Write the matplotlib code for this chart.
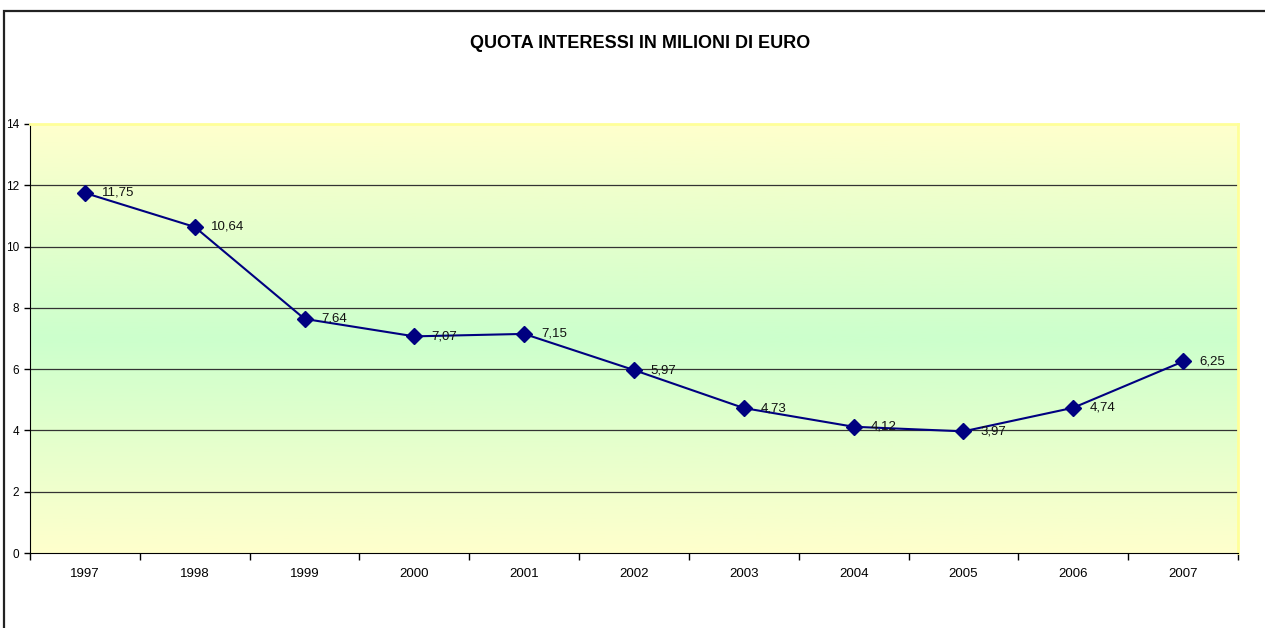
import matplotlib.pyplot as plt
import numpy as np
from matplotlib.colors import LinearSegmentedColormap
from matplotlib.patches import Rectangle

plt.rcParams['font.family'] = ['Liberation Sans', 'DejaVu Sans']

years = ['1997', '1998', '1999', '2000', '2001', '2002', '2003', '2004', '2005', '2006', '2007']
interessi = [11.75, 10.64, 7.64, 7.07, 7.15, 5.97, 4.73, 4.12, 3.97, 4.74, 6.25]
labels = ['11,75', '10,64', '7,64', '7,07', '7,15', '5,97', '4,73', '4,12', '3,97', '4,74', '6,25']

W, H = 1265, 628
fig = plt.figure(figsize=(W / 100, H / 100), dpi=100)

# outer chart border (right/bottom fall outside the image)
fig.patches.append(Rectangle((4 / W, -0.05), 1.1, 1 - 10.5 / H + 0.05,
                             transform=fig.transFigure, fill=False,
                             edgecolor='#222222', linewidth=1.6))

left, right, top, bottom = 30, 1238, 124, 553
ax = fig.add_axes([left / W, 1 - bottom / H, (right - left) / W, (bottom - top) / H])

n = len(years)
x = np.arange(n)
ax.set_xlim(-0.5, n - 0.5)
ax.set_ylim(0, 14)

# yellow-green-yellow background gradient
cmap = LinearSegmentedColormap.from_list('bg', [(0, '#FFFFCC'), (0.5, '#CCFFCC'), (1, '#FFFFCC')])
grad = np.linspace(0, 1, 256).reshape(-1, 1)
ax.imshow(grad, aspect='auto', cmap=cmap, extent=(-0.5, n - 0.5, 0, 14),
          origin='lower', zorder=0)

for yv in range(2, 14, 2):
    ax.axhline(yv, color='#333333', linewidth=0.9, zorder=1)

ax.plot(x, interessi, color='#000080', linewidth=1.5, marker='D', markersize=8,
        markerfacecolor='#000080', markeredgecolor='#000080', zorder=3)
for xi, yi, lab in zip(x, interessi, labels):
    ax.annotate(lab, (xi, yi), xytext=(12, 0), textcoords='offset points',
                ha='left', va='center', fontsize=9.5, color='#111111', zorder=4)

ax.set_yticks(range(0, 15, 2))
ax.set_yticklabels([str(v) for v in range(0, 15, 2)], fontsize=8.5)
ax.set_xticks(x)
ax.set_xticklabels(years, fontsize=9.5)
ax.set_xticks(np.arange(-0.5, n, 1), minor=True)
ax.tick_params(axis='x', which='major', length=0, pad=11)
ax.tick_params(axis='x', which='minor', length=5, width=1, direction='out', color='black')
ax.tick_params(axis='y', length=4, width=1, direction='out', pad=4)

for side in ['top', 'right']:
    ax.spines[side].set_color('#FFFF99')
    ax.spines[side].set_linewidth(2)
ax.spines['left'].set_color('black')
ax.spines['bottom'].set_color('black')

fig.text(640 / W, 1 - 44 / H, 'QUOTA INTERESSI IN MILIONI DI EURO', ha='center', va='center',
         fontsize=13, fontweight='bold')

fig.savefig('out.png', dpi=100)
